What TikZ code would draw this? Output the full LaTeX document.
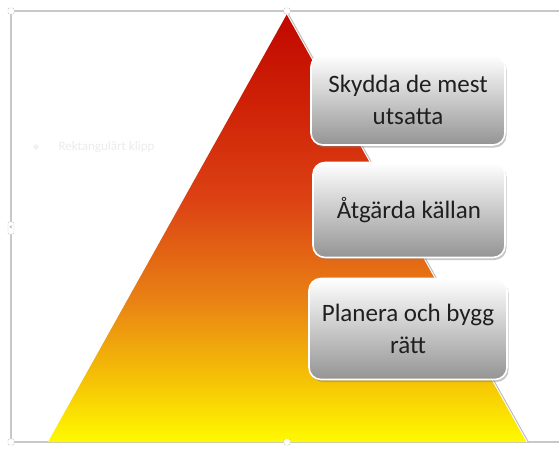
\documentclass[tikz,border=0pt]{standalone}
\usepackage{fontspec}
\setmainfont{Carlito}
\usetikzlibrary{shadows}
\definecolor{apexred}{RGB}{192,8,0}
\definecolor{cA}{RGB}{206,32,6}
\definecolor{cB}{RGB}{220,66,20}
\definecolor{cC}{RGB}{233,130,20}
\definecolor{cD}{RGB}{245,195,5}
\definecolor{baseyellow}{RGB}{255,250,0}
\definecolor{frameg}{RGB}{200,200,200}
\pgfdeclareverticalshading{pyrshade}{100bp}{color(0bp)=(baseyellow); color(25bp)=(baseyellow); color(32.2bp)=(cD); color(41.6bp)=(cC); color(53.3bp)=(cB); color(65bp)=(cA); color(75bp)=(apexred); color(100bp)=(apexred)}
\tikzset{
  levelbox/.style={rounded corners=12pt, draw=white, line width=1.6pt,
    top color=white, bottom color=black!42, align=center,
    font=\fontsize{25}{32}\selectfont, text=black!88,
    drop shadow={opacity=0.45, shadow xshift=1.5pt, shadow yshift=-2.5pt}},
  handle/.style={draw=frameg, fill=white, rounded corners=1pt, minimum size=6pt, inner sep=0pt},
}
\begin{document}
\begin{tikzpicture}[x=1pt,y=-1pt]
\useasboundingbox (0,0) rectangle (559,448);
% selection frame
\draw[frameg, line width=1.2pt] (11,11) -- (559,11);
\draw[frameg, line width=1.2pt] (11,11) -- (11,442) -- (559,442);
% faint ghost label
\node[circle, fill=black!5, inner sep=2pt] (ghostdot) at (36,147) {};
\node[anchor=west, text=black!8, font=\fontsize{13}{15}\selectfont] (ghost) at (55,147) {Rektangulärt klipp};
% pyramid
\coordinate (apex) at (287,14);
\coordinate (bl) at (48,442);
\coordinate (br) at (527,442);
\shade[shading=pyrshade] (apex) -- (br) -- (bl) -- cycle;
\draw[black!25, line width=1.2pt] ([xshift=1.2pt]apex) -- ([xshift=1.2pt]br);
\draw[white, line width=0.8pt] (apex) -- (br);
% boxes
\node[levelbox, minimum width=194pt, minimum height=90pt] (b1) at (408,100) {Skydda de mest\\utsatta};
\node[levelbox, minimum width=192pt, minimum height=95pt] (b2) at (409,210) {Åtgärda källan};
\node[levelbox, minimum width=198pt, minimum height=101pt] (b3) at (408,329) {Planera och bygg\\rätt};
% handles
\node[handle] (h1) at (11,11) {};
\node[handle] (h2) at (287,11) {};
\node[handle] (h3) at (11,442) {};
\node[handle] (h4) at (287,442) {};
\node[handle, minimum height=12pt, font=\fontsize{7}{7}\selectfont, text=black!50] (h5) at (11,228) {<};
\end{tikzpicture}
\end{document}
